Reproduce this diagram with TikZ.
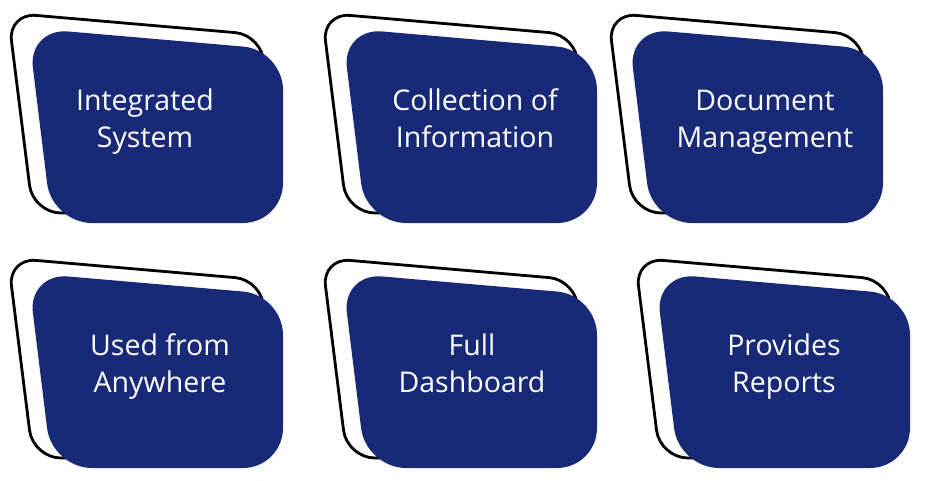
\documentclass[tikz,border=0pt]{standalone}
\usepackage{fontspec}
\setmainfont{Open Sans}
\definecolor{cardblue}{RGB}{24,41,119}

\begin{document}
\begin{tikzpicture}[
      x=1pt, y=-1pt,
      outline/.style={draw=black, line width=2.8pt, fill=white, rounded corners=28pt},
      face/.style={fill=cardblue, rounded corners=40pt},
      card/.pic={
        \draw[outline] (8,13) -- (263,35) -- (268,213) -- (33,213) -- cycle;
        \fill[face] (28,28) -- (283,50) -- (283,223) -- (52,223) -- cycle;
      },
      cardtext/.style={text=white, align=center, anchor=base, font=\fontsize{28.5}{37}\selectfont}
    ]

    \useasboundingbox (0,0) rectangle (931,480);

    \pic at (0,0) {card};
    \pic at (314,0) {card};
    \pic at (600,0) {card};
    \pic at (0,245) {card};
    \pic at (314,245) {card};
    \pic at (627,245) {card};

    \node[cardtext] (integrated) at (145,147) {Integrated\\System};
    \node[cardtext] (collection) at (475,147) {Collection of\\Information};
    \node[cardtext] (document) at (765,147) {Document\\Management};
    \node[cardtext] (anywhere) at (160,392) {Used from\\Anywhere};
    \node[cardtext] (dashboard) at (472,392) {Full\\Dashboard};
    \node[cardtext] (reports) at (784,392) {Provides\\Reports};

  \end{tikzpicture}
\end{document}
